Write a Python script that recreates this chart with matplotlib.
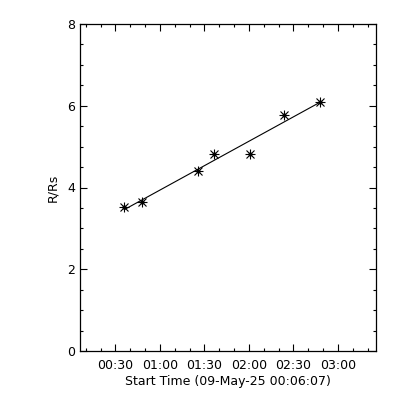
import numpy as np
import matplotlib
matplotlib.use("Agg")
import matplotlib.pyplot as plt
from matplotlib.ticker import FixedLocator, MultipleLocator, FuncFormatter

# minutes after midnight, 09-May-25
t_min = [36.0, 47.9, 85.6, 96.8, 120.6, 143.4, 167.7]
r_rs = [3.53, 3.65, 4.40, 4.82, 4.82, 5.78, 6.09]
start_min = 6 + 7 / 60.0  # 00:06:07
major_ticks = [30, 60, 90, 120, 150, 180]

plt.rcParams['font.family'] = ['Liberation Sans Narrow', 'DejaVu Sans']

fig = plt.figure(figsize=(4, 4), dpi=100)
ax = fig.add_axes([0.2, 0.1225, 0.74, 0.8175])

t = np.array(t_min)
r = np.array(r_rs)

# linear fit drawn across the data range
coef = np.polyfit(t, r, 1)
xf = np.array([t.min(), t.max()])
ax.plot(xf, np.polyval(coef, xf), color='black', lw=0.8)

# IDL-style asterisk: plus + cross
ax.plot(t, r, ls='none', marker='+', ms=7, mew=0.8, color='black')
ax.plot(t, r, ls='none', marker='x', ms=6, mew=0.8, color='black')
ax.plot(t, r, ls='none', marker='o', ms=2, color='black')

ax.set_xlim(start_min, 205.7)
ax.set_ylim(0, 8)

ax.xaxis.set_major_locator(FixedLocator(major_ticks))
ax.xaxis.set_minor_locator(MultipleLocator(10))
ax.xaxis.set_major_formatter(FuncFormatter(lambda v, p: f"{int(v)//60:02d}:{int(v)%60:02d}"))
ax.yaxis.set_major_locator(MultipleLocator(2))
ax.yaxis.set_minor_locator(MultipleLocator(0.5))
ax.yaxis.set_major_formatter(FuncFormatter(lambda v, p: f"{int(v)}"))

ax.tick_params(which='both', direction='in', top=True, right=True, width=0.8,
               labelsize=9, colors='black')
ax.tick_params(which='major', length=5)
ax.tick_params(which='minor', length=2.5)
ax.tick_params(axis='x', pad=6)
for s in ax.spines.values():
    s.set_linewidth(0.9)

ax.set_xlabel('Start Time (09-May-25 00:06:07)', fontsize=9, labelpad=2)
ax.set_ylabel('R/Rs', fontsize=9, labelpad=6)

fig.savefig('out.png', dpi=100)
